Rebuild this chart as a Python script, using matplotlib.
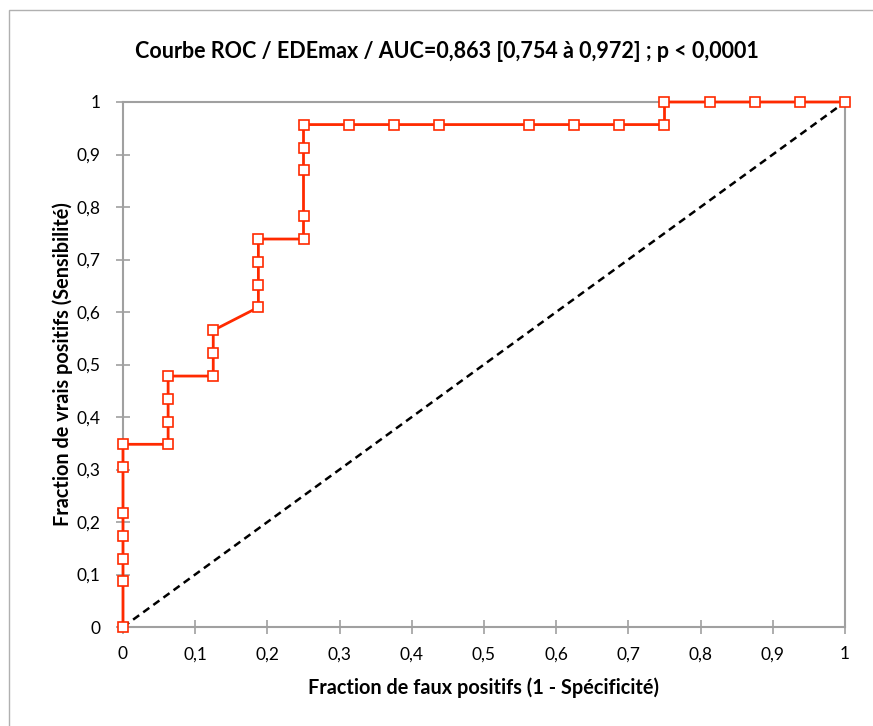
import matplotlib
matplotlib.use("Agg")
import matplotlib.pyplot as plt
from matplotlib.patches import Rectangle

plt.rcParams['font.family'] = ['Lato', 'DejaVu Sans']

# ROC points (1 - specificity, sensitivity)
fpr = [0, 0, 0, 0, 0, 0, 0,
       0.0625, 0.0625, 0.0625, 0.0625,
       0.125, 0.125, 0.125,
       0.1875, 0.1875, 0.1875, 0.1875,
       0.25, 0.25, 0.25, 0.25, 0.25,
       0.3125, 0.375, 0.4375, 0.5625, 0.625, 0.6875, 0.75,
       0.75, 0.8125, 0.875, 0.9375, 1]
tpr = [0, 0.087, 0.130, 0.174, 0.217, 0.304, 0.348,
       0.348, 0.391, 0.435, 0.478,
       0.478, 0.522, 0.565,
       0.609, 0.652, 0.696, 0.739,
       0.739, 0.783, 0.870, 0.913, 0.957,
       0.957, 0.957, 0.957, 0.957, 0.957, 0.957, 0.957,
       1, 1, 1, 1, 1]
diag = [0, 1]
ticks = [0, 0.1, 0.2, 0.3, 0.4, 0.5, 0.6, 0.7, 0.8, 0.9, 1]
tick_labels = ['0', '0,1', '0,2', '0,3', '0,4', '0,5', '0,6', '0,7', '0,8', '0,9', '1']

fig = plt.figure(figsize=(8.73, 7.26), dpi=100)
fig.patches.append(Rectangle((9/873, -0.05), 1.2, 1 - 10/726 + 0.05,
                             transform=fig.transFigure, fill=False,
                             edgecolor='#b0b0b0', linewidth=1))
ax = fig.add_axes([123/873, 1 - 627/726, 722/873, 525/726])

ax.plot(diag, diag, color='black', linestyle=(0, (3, 2)), linewidth=1.8, zorder=2)
ax.plot(fpr, tpr, color='#ff2a00', linewidth=2, marker='s', markersize=7,
        markerfacecolor='white', markeredgecolor='#ff2a00', markeredgewidth=1.2,
        zorder=3, clip_on=False)

ax.set_xlim(0, 1)
ax.set_ylim(0, 1)
ax.set_xticks(ticks)
ax.set_xticklabels(tick_labels)
ax.set_yticks(ticks)
ax.set_yticklabels(tick_labels)
for s in ax.spines.values():
    s.set_color('#a0a0a0')
    s.set_linewidth(1.5)
ax.tick_params(direction='inout', length=10, width=1.2, color='#a0a0a0',
               labelsize=12.5, labelcolor='black')
ax.tick_params(axis='x', pad=9)
ax.tick_params(axis='y', pad=11)

ax.set_xlabel('Fraction de faux positifs (1 - Spécificité)', fontsize=14.3,
              fontweight='bold', va='center')
ax.xaxis.set_label_coords(0.5, (627 - 688) / 525)
ax.set_ylabel('Fraction de vrais positifs (Sensibilité)', fontsize=14.3,
              fontweight='bold', va='center')
ax.yaxis.set_label_coords((63 - 123) / 722, 0.5)
fig.text(447/873, 1 - 52/726, 'Courbe ROC / EDEmax / AUC=0,863 [0,754 à 0,972] ; p < 0,0001',
         ha='center', va='center', fontsize=15.5, fontweight='bold')

fig.savefig('out.png', dpi=100)
